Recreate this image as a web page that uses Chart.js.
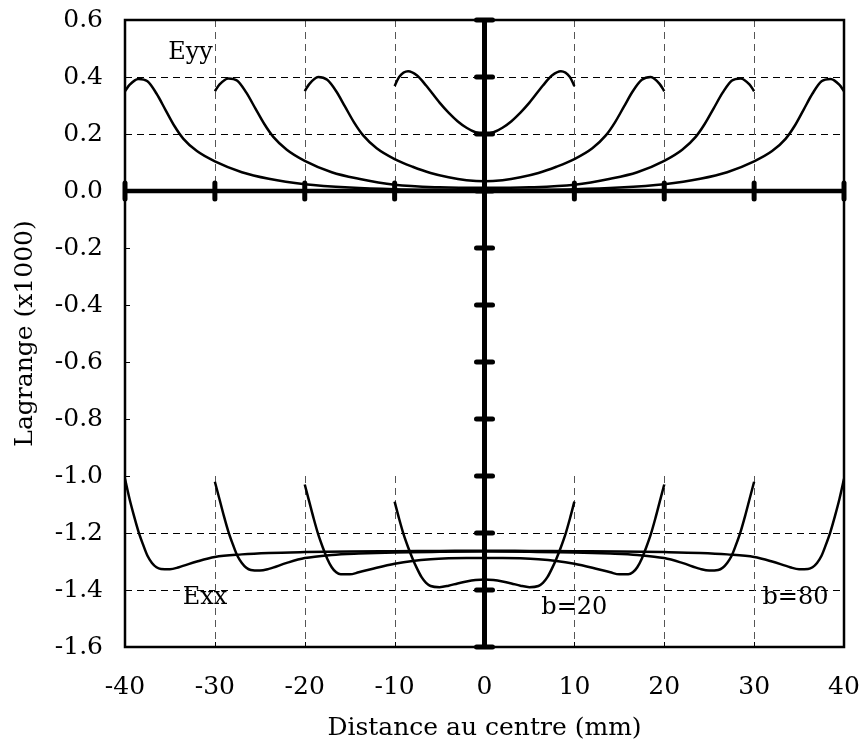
<!DOCTYPE html>
<html>
<head>
<meta charset="utf-8">
<title>Lagrange</title>
<script src="https://cdn.jsdelivr.net/npm/chart.js@4.4.1/dist/chart.umd.min.js"></script>
<style>
  html, body { margin: 0; padding: 0; background: #fff; }
  #wrap { width: 864px; height: 745px; }
</style>
</head>
<body>
<div id="wrap"><canvas id="myChart" width="864" height="745"></canvas></div>
<script>
// tick values
const xTicks = [-40, -30, -20, -10, 0, 10, 20, 30, 40];
const yTicks = [0.6, 0.4, 0.2, 0.0, -0.2, -0.4, -0.6, -0.8, -1.0, -1.2, -1.4, -1.6];

// Eyy curves (b = 20, 40, 60, 80)
const eyy20X = [-10, -9.5, -8.5, -7.5, -6.5, -5, -4, -3, -2, -1, 0, 1, 2, 3, 4, 5, 6.5, 7.5, 8.5, 9.5, 10];
const eyy20Y = [0.368, 0.40, 0.42, 0.405, 0.37, 0.31, 0.275, 0.245, 0.222, 0.206, 0.200, 0.206, 0.222, 0.245, 0.275, 0.31, 0.37, 0.405, 0.42, 0.40, 0.368];

const eyy40X = [-20, -19.5, -18.5, -17.5, -16.5, -15.5, -14.5, -13.5, -12, -10, -8, -6, -4, -2, 0, 2, 4, 6, 8, 10, 12, 13.5, 14.5, 15.5, 16.5, 17.5, 18.5, 19.5, 20];
const eyy40Y = [0.35, 0.375, 0.40, 0.39, 0.35, 0.295, 0.24, 0.195, 0.15, 0.112, 0.085, 0.063, 0.048, 0.038, 0.034, 0.038, 0.048, 0.063, 0.085, 0.112, 0.15, 0.195, 0.24, 0.295, 0.35, 0.39, 0.40, 0.375, 0.35];

const eyy60X = [-30, -29.5, -28.5, -27.5, -26.5, -25.5, -24.5, -23.5, -22, -20, -17, -14, -10, -5, 0, 5, 10, 14, 17, 20, 22, 23.5, 24.5, 25.5, 26.5, 27.5, 28.5, 29.5, 30];
const eyy60Y = [0.35, 0.373, 0.395, 0.387, 0.345, 0.29, 0.235, 0.19, 0.145, 0.106, 0.066, 0.043, 0.022, 0.013, 0.011, 0.013, 0.022, 0.043, 0.066, 0.106, 0.145, 0.19, 0.235, 0.29, 0.345, 0.387, 0.395, 0.373, 0.35];

const eyy80X = [-40, -39.5, -38.5, -37.5, -36.5, -35.5, -34.5, -33.5, -32, -30, -27, -24, -20, -15, -10, -5, 0, 5, 10, 15, 20, 24, 27, 30, 32, 33.5, 34.5, 35.5, 36.5, 37.5, 38.5, 39.5, 40];
const eyy80Y = [0.35, 0.372, 0.393, 0.385, 0.342, 0.285, 0.228, 0.183, 0.14, 0.104, 0.066, 0.043, 0.024, 0.012, 0.006, 0.004, 0.003, 0.004, 0.006, 0.012, 0.024, 0.043, 0.066, 0.104, 0.14, 0.183, 0.228, 0.285, 0.342, 0.385, 0.393, 0.372, 0.35];

// Exx curves (b = 20, 40, 60, 80)
const exx20X = [-10, -9.5, -9, -8.5, -8, -7.5, -7, -6.5, -6, -5, -4, -3, -2, -1, 0, 1, 2, 3, 4, 5, 6, 6.5, 7, 7.5, 8, 8.5, 9, 9.5, 10];
const exx20Y = [-1.09, -1.15, -1.205, -1.25, -1.29, -1.325, -1.355, -1.375, -1.386, -1.39, -1.385, -1.377, -1.37, -1.365, -1.363, -1.365, -1.37, -1.377, -1.385, -1.39, -1.386, -1.375, -1.355, -1.325, -1.29, -1.25, -1.205, -1.15, -1.09];

const exx40X = [-20, -19.5, -19, -18.5, -18, -17.5, -17, -16.5, -16, -15, -14, -12, -10, -8, -6, -4, -2, 0, 2, 4, 6, 8, 10, 12, 14, 15, 16, 16.5, 17, 17.5, 18, 18.5, 19, 19.5, 20];
const exx40Y = [-1.03, -1.09, -1.15, -1.205, -1.25, -1.29, -1.32, -1.338, -1.345, -1.345, -1.338, -1.322, -1.308, -1.298, -1.292, -1.289, -1.288, -1.288, -1.288, -1.289, -1.292, -1.298, -1.308, -1.322, -1.338, -1.345, -1.345, -1.338, -1.32, -1.29, -1.25, -1.205, -1.15, -1.09, -1.03];

const exx60X = [-30, -29.5, -29, -28.5, -28, -27.5, -27, -26.5, -26, -25, -24, -22, -20, -17, -14, -10, -5, 0, 5, 10, 14, 17, 20, 22, 24, 25, 26, 26.5, 27, 27.5, 28, 28.5, 29, 29.5, 30];
const exx60Y = [-1.02, -1.08, -1.14, -1.195, -1.24, -1.28, -1.305, -1.322, -1.33, -1.332, -1.326, -1.305, -1.288, -1.277, -1.272, -1.268, -1.266, -1.265, -1.266, -1.268, -1.272, -1.277, -1.288, -1.305, -1.326, -1.332, -1.33, -1.322, -1.305, -1.28, -1.24, -1.195, -1.14, -1.08, -1.02];

const exx80X = [-40, -39.5, -39, -38.5, -38, -37.5, -37, -36.5, -36, -35, -34, -32, -30, -27, -24, -20, -15, -10, -5, 0, 5, 10, 15, 20, 24, 27, 30, 32, 34, 35, 36, 36.5, 37, 37.5, 38, 38.5, 39, 39.5, 40];
const exx80Y = [-1.01, -1.08, -1.14, -1.195, -1.24, -1.28, -1.305, -1.32, -1.326, -1.327, -1.32, -1.30, -1.284, -1.275, -1.27, -1.267, -1.265, -1.264, -1.263, -1.262, -1.263, -1.264, -1.265, -1.267, -1.27, -1.275, -1.284, -1.30, -1.32, -1.327, -1.326, -1.32, -1.305, -1.28, -1.24, -1.195, -1.14, -1.08, -1.01];

// text placed inside the plot (data coordinates)
const notes = [
  { text: 'Eyy', x: -32.7, y: 0.486 },
  { text: 'Exx', x: -31.1, y: -1.427 },
  { text: 'b=20', x: 10.0, y: -1.462 },
  { text: 'b=80', x: 34.6, y: -1.427 }
];

const FONT = 'DejaVu Serif';

const series = [
  [eyy20X, eyy20Y], [eyy40X, eyy40Y], [eyy60X, eyy60Y], [eyy80X, eyy80Y],
  [exx20X, exx20Y], [exx40X, exx40Y], [exx60X, exx60Y], [exx80X, exx80Y]
];

const datasets = series.map(([xs, ys]) => ({
  data: xs.map((v, i) => ({ x: v, y: ys[i] })),
  borderColor: '#000',
  borderWidth: 2.5,
  pointRadius: 0,
  fill: false,
  cubicInterpolationMode: 'monotone'
}));

// grid, frame, heavy axes at zero
const decor = {
  id: 'decor',
  beforeDatasetsDraw(chart) {
    const { ctx, chartArea: a, scales: { x, y } } = chart;
    ctx.save();

    // dashed grid lines
    ctx.lineWidth = 1;
    ctx.setLineDash([7, 5]);
    ctx.strokeStyle = '#000';
    [0.4, 0.2, -1.2, -1.4].forEach(v => {
      const py = Math.round(y.getPixelForValue(v)) + 0.5;
      ctx.beginPath(); ctx.moveTo(a.left, py); ctx.lineTo(a.right, py); ctx.stroke();
    });
    ctx.strokeStyle = '#555';
    xTicks.filter(v => v !== 0 && Math.abs(v) !== 40).forEach(v => {
      const px = Math.round(x.getPixelForValue(v)) + 0.5;
      ctx.beginPath();
      ctx.moveTo(px, a.top); ctx.lineTo(px, y.getPixelForValue(0));
      ctx.moveTo(px, y.getPixelForValue(-1.0)); ctx.lineTo(px, a.bottom);
      ctx.stroke();
    });
    ctx.setLineDash([]);

    // small inward ticks on the frame
    ctx.strokeStyle = '#000';
    ctx.lineWidth = 1;
    yTicks.forEach(v => {
      const py = Math.round(y.getPixelForValue(v)) + 0.5;
      ctx.beginPath(); ctx.moveTo(a.left, py); ctx.lineTo(a.left + 5, py); ctx.stroke();
    });
    xTicks.forEach(v => {
      const px = Math.round(x.getPixelForValue(v)) + 0.5;
      ctx.beginPath(); ctx.moveTo(px, a.bottom); ctx.lineTo(px, a.bottom - 5); ctx.stroke();
    });

    // frame
    ctx.lineWidth = 2.5;
    ctx.strokeRect(a.left, a.top, a.right - a.left, a.bottom - a.top);

    // heavy axes through zero
    const x0 = x.getPixelForValue(0);
    const y0 = y.getPixelForValue(0);
    ctx.lineCap = 'butt';
    ctx.lineWidth = 4.5;
    ctx.beginPath(); ctx.moveTo(a.left, y0); ctx.lineTo(a.right, y0); ctx.stroke();
    ctx.lineWidth = 5;
    ctx.beginPath(); ctx.moveTo(x0, a.top); ctx.lineTo(x0, a.bottom); ctx.stroke();
    ctx.lineCap = 'round';
    ctx.lineWidth = 5;
    xTicks.forEach(v => {
      const px = x.getPixelForValue(v);
      ctx.beginPath(); ctx.moveTo(px, y0 - 8); ctx.lineTo(px, y0 + 8); ctx.stroke();
    });
    yTicks.forEach(v => {
      const py = y.getPixelForValue(v);
      ctx.beginPath(); ctx.moveTo(x0 - 8, py); ctx.lineTo(x0 + 8, py); ctx.stroke();
    });
    ctx.restore();
  },
  afterDatasetsDraw(chart) {
    const { ctx, scales: { x, y } } = chart;
    ctx.save();
    ctx.fillStyle = '#000';
    ctx.font = '24px "' + FONT + '"';
    ctx.textAlign = 'center';
    ctx.textBaseline = 'middle';
    notes.forEach(n => ctx.fillText(n.text, x.getPixelForValue(n.x), y.getPixelForValue(n.y)));
    ctx.restore();
  }
};

const chartConfig = {
  type: 'line',
  data: { datasets: datasets },
  options: {
    responsive: false,
    animation: false,
    devicePixelRatio: 1,
    layout: { padding: { top: 20, right: 20, left: 10, bottom: 0 } },
    plugins: { legend: { display: false }, tooltip: { enabled: false } },
    scales: {
      x: {
        type: 'linear',
        min: -40,
        max: 40,
        afterBuildTicks: axis => { axis.ticks = xTicks.map(v => ({ value: v })); },
        afterFit: axis => { axis.height = 98; axis.paddingLeft = 0; axis.paddingRight = 0; },
        grid: { display: false },
        border: { display: false },
        ticks: {
          color: '#000',
          padding: 17,
          maxRotation: 0,
          font: { family: FONT, size: 25 },
          callback: v => String(v)
        },
        title: {
          display: true,
          text: 'Distance au centre (mm)',
          color: '#000',
          font: { family: FONT, size: 25 },
          padding: { top: 0, bottom: 2 }
        }
      },
      y: {
        type: 'linear',
        min: -1.6,
        max: 0.6,
        afterBuildTicks: axis => { axis.ticks = yTicks.map(v => ({ value: v })); },
        afterFit: axis => { axis.width = 115; axis.paddingTop = 0; axis.paddingBottom = 0; },
        grid: { display: false },
        border: { display: false },
        ticks: {
          color: '#000',
          padding: 14,
          font: { family: FONT, size: 25 },
          callback: v => v.toFixed(1)
        },
        title: {
          display: true,
          text: 'Lagrange (x1000)',
          color: '#000',
          font: { family: FONT, size: 25 },
          padding: { top: 0, bottom: 0 }
        }
      }
    }
  },
  plugins: [decor]
};

const myChart = new Chart(document.getElementById('myChart').getContext('2d'), chartConfig);
</script>
</body>
</html>
